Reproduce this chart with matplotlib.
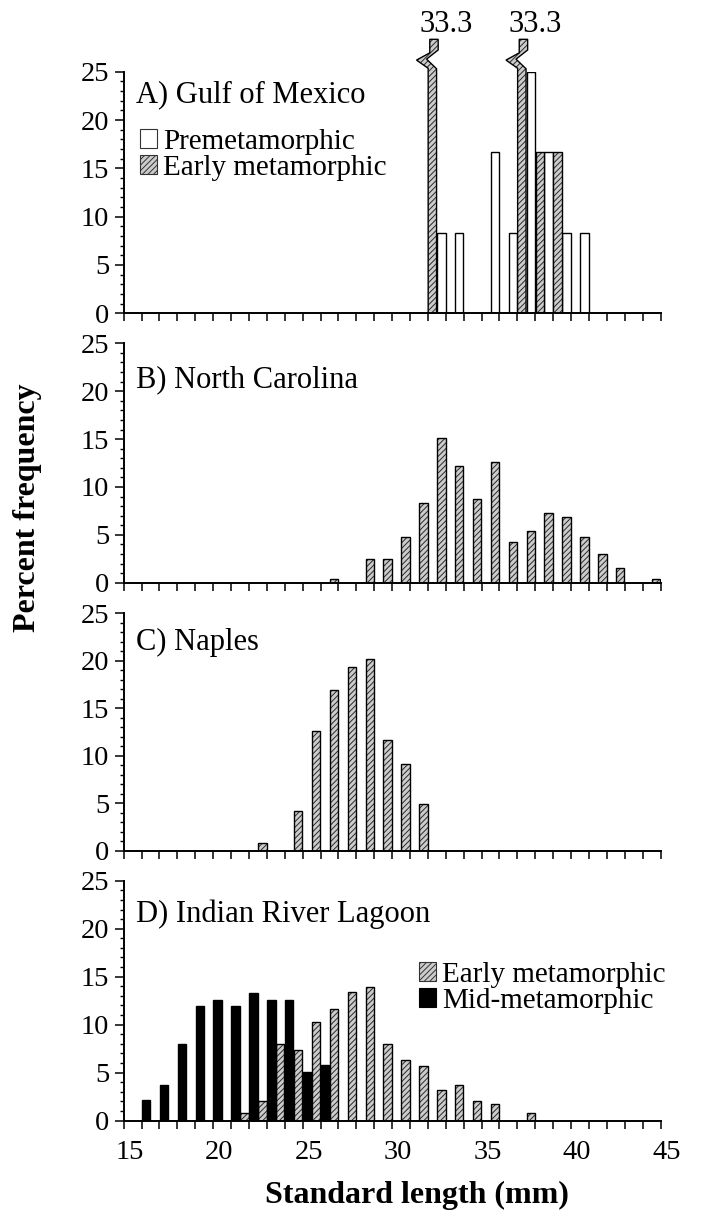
import numpy as np
import matplotlib.pyplot as plt
import matplotlib.patches as mpatches
from matplotlib.ticker import MultipleLocator
from matplotlib.transforms import ScaledTranslation

plt.rcParams['font.family'] = ['Liberation Serif', 'DejaVu Serif']
plt.rcParams['hatch.linewidth'] = 0.7

# --- data (percent frequency per 1-mm bin, bins given by their lower edge) ---
# A) Gulf of Mexico
bins_a_pre = [32, 33, 35, 36, 37, 38, 39, 40]
pre_a = [8.3, 8.3, 16.7, 8.3, 25.0, 16.7, 8.3, 8.3]
bins_a_early = [32, 37, 38, 39]
early_a = [33.3, 33.3, 16.7, 16.7]

# B) North Carolina
bins_b = [26, 28, 29, 30, 31, 32, 33, 34, 35, 36, 37, 38, 39, 40, 41, 42, 44]
early_b = [0.4, 2.5, 2.5, 4.8, 8.3, 15.1, 12.2, 8.7, 12.6, 4.3, 5.4, 7.3, 6.9, 4.8, 3.0, 1.5, 0.4]

# C) Naples
bins_c = [22, 24, 25, 26, 27, 28, 29, 30, 31]
early_c = [0.8, 4.2, 12.6, 16.9, 19.3, 20.2, 11.7, 9.1, 4.9]

# D) Indian River Lagoon
bins_d_mid = [16, 17, 18, 19, 20, 21, 22, 23, 24, 25, 26]
mid_d = [2.1, 3.7, 8.0, 11.9, 12.6, 11.9, 13.3, 12.6, 12.6, 5.1, 5.8]
bins_d_early = [21, 22, 23, 24, 25, 26, 27, 28, 29, 30, 31, 32, 33, 34, 35, 37]
early_d = [0.8, 2.0, 8.0, 7.4, 10.3, 11.6, 13.4, 13.9, 8.0, 6.3, 5.7, 3.2, 3.7, 2.0, 1.7, 0.8]

panel_titles = ['A) Gulf of Mexico', 'B) North Carolina', 'C) Naples', 'D) Indian River Lagoon']
xticks = [15, 20, 25, 30, 35, 40, 45]

HATCH = '//////'
HATCH_FACE = '#cccccc'
HATCH_INK = '#2a2a2a'
W = 0.47  # bar width (two bars share a 1-mm bin)
FS = 22
LEG_FS = 21

fig = plt.figure(figsize=(7.02, 12.11), dpi=100)

left, width = 0.1762, 0.7647
bottoms = [0.7413, 0.5188, 0.2975, 0.0747]
heights = [0.1995, 0.1977, 0.1961, 0.1980]
title_y = [0.875, 0.817, 0.845, 0.828]

axes = [fig.add_axes([left, b, width, h]) for b, h in zip(bottoms, heights)]


def hatched_bars(ax, x, h):
    ax.bar(x, h, width=W, color=HATCH_FACE, edgecolor=HATCH_INK, linewidth=0, hatch=HATCH)
    ax.bar(x, h, width=W, fill=False, edgecolor='black', linewidth=1.0)


def style_axis(ax, labels):
    ax.set_xlim(15, 45)
    ax.set_ylim(0, 25)
    ax.spines[['top', 'right']].set_visible(False)
    ax.spines[['left', 'bottom']].set_linewidth(1.4)
    ax.set_xticks(xticks)
    ax.xaxis.set_minor_locator(MultipleLocator(1))
    ax.yaxis.set_major_locator(MultipleLocator(5))
    ax.yaxis.set_minor_locator(MultipleLocator(1))
    ax.tick_params(axis='x', which='both', direction='out', length=6, width=1.1,
                   labelsize=20.5, pad=8, labelbottom=labels)
    ax.tick_params(axis='y', which='major', direction='out', length=6.5, width=1.1,
                   labelsize=20.5, pad=4)
    ax.tick_params(axis='y', which='minor', direction='out', length=3, width=1.0)


# --- A) Gulf of Mexico ---
ax = axes[0]
x_pre = np.array(bins_a_pre) + 0.75
x_early = np.array(bins_a_early) + 0.25
ax.bar(x_pre, pre_a, width=W, color='white', edgecolor='black', linewidth=1.0)
cap = 25.3
for x, v in zip(x_early, early_a):
    if v > 25:
        # broken bar: body up to the break, then a zigzag and a short top piece
        ax.bar(x, cap, width=W, color=HATCH_FACE, edgecolor=HATCH_INK, linewidth=0, hatch=HATCH)
        x0, x1 = x - W / 2, x + W / 2
        shape = [(x0, 0), (x0, 25.35), (x0 - 0.65, 26.2), (x0 + 0.09, 26.95), (x0 + 0.09, 28.35),
                 (x1 + 0.09, 28.35), (x1 + 0.09, 27.25), (x1 - 0.56, 26.3), (x1, 25.3), (x1, 0)]
        ax.add_patch(mpatches.Polygon(shape, closed=True, facecolor=HATCH_FACE,
                                      edgecolor=HATCH_INK, linewidth=0, hatch=HATCH, clip_on=False))
        ax.add_patch(mpatches.Polygon(shape, closed=True, fill=False,
                                      edgecolor='black', linewidth=1.0, clip_on=False))
        ax.text(x + 0.75, 29.15, f'{v:.1f}', ha='center', va='baseline', fontsize=FS, clip_on=False)
    else:
        hatched_bars(ax, x, v)

legend_a = [mpatches.Patch(facecolor='white', edgecolor='#333333', linewidth=0.8, label='Premetamorphic'),
            mpatches.Patch(facecolor=HATCH_FACE, edgecolor='#333333', linewidth=0.8, hatch=HATCH,
                           label='Early metamorphic')]
ax.legend(handles=legend_a, loc='upper left', bbox_to_anchor=(0.03, 0.763), frameon=False,
          fontsize=LEG_FS, handlelength=0.6, handleheight=0.6, handletextpad=0.2,
          labelspacing=0.0, borderpad=0, borderaxespad=0)

# --- B) North Carolina ---
hatched_bars(axes[1], np.array(bins_b) + 0.75, early_b)

# --- C) Naples ---
hatched_bars(axes[2], np.array(bins_c) + 0.75, early_c)

# --- D) Indian River Lagoon ---
ax = axes[3]
hatched_bars(ax, np.array(bins_d_early) + 0.75, early_d)
ax.bar(np.array(bins_d_mid) + 0.25, mid_d, width=W, color='black', edgecolor='black', linewidth=1.0)
legend_d = [mpatches.Patch(facecolor=HATCH_FACE, edgecolor='#333333', linewidth=0.8, hatch=HATCH,
                           label='Early metamorphic'),
            mpatches.Patch(facecolor='black', edgecolor='black', linewidth=0.8, label='Mid-metamorphic')]
ax.legend(handles=legend_d, loc='upper left', bbox_to_anchor=(0.55, 0.663), frameon=False,
          fontsize=LEG_FS, handlelength=0.6, handleheight=0.6, handletextpad=0.2,
          labelspacing=0.0, borderpad=0, borderaxespad=0)

for i, ax in enumerate(axes):
    style_axis(ax, labels=(i == 3))
    ax.text(0.023, title_y[i], panel_titles[i], transform=ax.transAxes,
            ha='left', va='baseline', fontsize=FS)

# tick labels sit a little right of their ticks in the original
shift = ScaledTranslation(0.06, 0, fig.dpi_scale_trans)
for lab in axes[3].get_xticklabels():
    lab.set_transform(lab.get_transform() + shift)

fig.text(417 / 702, 1 - 1203 / 1211, 'Standard length (mm)', ha='center', va='baseline',
         fontsize=23, fontweight='bold')
fig.text(28 / 702, 1 - 508 / 1211, 'Percent frequency', ha='center', va='center',
         rotation=90, fontsize=23, fontweight='bold')

fig.savefig('out.png', dpi=100)
